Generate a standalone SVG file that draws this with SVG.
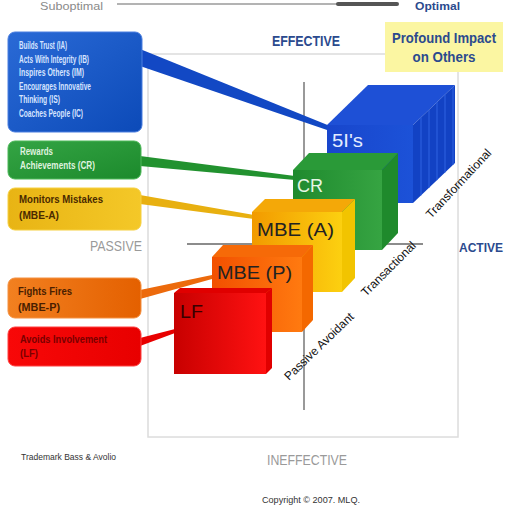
<svg xmlns="http://www.w3.org/2000/svg" width="510" height="505" viewBox="0 0 510 505">
<defs>
<linearGradient id="gBlueBox" x1="0" y1="0" x2="1" y2="1"><stop offset="0" stop-color="#2a6ad6"/><stop offset="1" stop-color="#0c4ab8"/></linearGradient>
<linearGradient id="gGreenBox" x1="0" y1="0" x2="1" y2="1"><stop offset="0" stop-color="#34a444"/><stop offset="1" stop-color="#1c8a2c"/></linearGradient>
<linearGradient id="gYellowBox" x1="0" y1="0" x2="1" y2="0"><stop offset="0" stop-color="#e8b414"/><stop offset="1" stop-color="#f4c828"/></linearGradient>
<linearGradient id="gOrangeBox" x1="0" y1="0" x2="1" y2="0"><stop offset="0" stop-color="#f28020"/><stop offset="1" stop-color="#e46000"/></linearGradient>
<linearGradient id="gRedBox" x1="0" y1="0" x2="1" y2="0"><stop offset="0" stop-color="#f80808"/><stop offset="1" stop-color="#e80000"/></linearGradient>
<linearGradient id="gBlueF" x1="0" y1="0" x2="1" y2="0"><stop offset="0" stop-color="#1846cc"/><stop offset="1" stop-color="#1c52d8"/></linearGradient>
<linearGradient id="gGreenF" x1="0" y1="0" x2="1" y2="0"><stop offset="0" stop-color="#1f8a2e"/><stop offset="1" stop-color="#36a442"/></linearGradient>
<linearGradient id="gYellowF" x1="0" y1="0" x2="1" y2="0"><stop offset="0" stop-color="#f29a00"/><stop offset="1" stop-color="#fcd010"/></linearGradient>
<linearGradient id="gOrangeF" x1="0" y1="0" x2="1" y2="0"><stop offset="0" stop-color="#f25000"/><stop offset="1" stop-color="#ff7a10"/></linearGradient>
<linearGradient id="gRedF" x1="0" y1="0" x2="1" y2="0"><stop offset="0" stop-color="#c80000"/><stop offset="1" stop-color="#ff1212"/></linearGradient>
<style>
.box text{font-family:"Liberation Sans","DejaVu Sans",sans-serif;font-weight:bold;font-size:10px}
.lbl{font-family:"Liberation Sans","DejaVu Sans",sans-serif}
.cube text{font-family:"Liberation Sans","DejaVu Sans",sans-serif;font-size:19px}
.diag{font-family:"Liberation Sans","DejaVu Sans",sans-serif;font-size:12px;fill:#111}
.navy{fill:#2b4a8e;font-weight:bold}
.grey{fill:#9a9a9a}
</style>
</defs>
<rect width="510" height="505" fill="#ffffff"/>

<!-- top scale -->
<g id="scale">
<text class="lbl" x="40" y="10" font-size="11" fill="#8a8a8a" textLength="63" lengthAdjust="spacingAndGlyphs">Suboptimal</text>
<line x1="117" y1="4" x2="398" y2="4" stroke="#9a9a9a" stroke-width="1.5"/>
<line x1="338" y1="4" x2="397" y2="4" stroke="#555" stroke-width="4" stroke-linecap="round"/>
<text class="lbl navy" x="415" y="10" font-size="11" textLength="45" lengthAdjust="spacingAndGlyphs">Optimal</text>
</g>

<!-- frame and axes -->
<g id="frame">
<rect x="148" y="54" width="310" height="383" fill="none" stroke="#dcdcdc" stroke-width="1.5"/>
<line x1="304" y1="82" x2="304" y2="410" stroke="#777" stroke-width="1.5"/>
<line x1="187" y1="244" x2="423" y2="244" stroke="#666" stroke-width="1.5"/>
</g>

<g id="labels">
<text class="lbl navy" x="306" y="46" font-size="14" text-anchor="middle" textLength="68" lengthAdjust="spacingAndGlyphs">EFFECTIVE</text>
<text class="lbl grey" x="90" y="251" font-size="14" textLength="52" lengthAdjust="spacingAndGlyphs">PASSIVE</text>
<text class="lbl navy" x="459" y="252" font-size="13" textLength="44" lengthAdjust="spacingAndGlyphs">ACTIVE</text>
<text class="lbl grey" x="307" y="465" font-size="15" text-anchor="middle" textLength="80" lengthAdjust="spacingAndGlyphs">INEFFECTIVE</text>
<text class="lbl" x="21" y="460" font-size="9" fill="#333" textLength="95" lengthAdjust="spacingAndGlyphs">Trademark Bass &amp; Avolio</text>
<text class="lbl" x="262" y="503" font-size="9" fill="#333" textLength="98" lengthAdjust="spacingAndGlyphs">Copyright © 2007. MLQ.</text>
</g>

<g id="impact">
<rect x="385" y="22" width="118" height="50" fill="#fbf6a2"/>
<text class="lbl navy" x="444" y="43" font-size="14" text-anchor="middle" textLength="104" lengthAdjust="spacingAndGlyphs">Profound Impact</text>
<text class="lbl navy" x="444" y="62" font-size="14" text-anchor="middle" textLength="63" lengthAdjust="spacingAndGlyphs">on Others</text>
</g>

<!-- connectors -->
<g id="connectors">
<polygon points="140,49 330,126 330,131 140,66" fill="#1248c4"/>
<polygon points="140,156 295,176 295,180 140,166" fill="#22922f"/>
<polygon points="140,195 254,215 254,219 140,204" fill="#e8b010"/>
<polygon points="140,290 212,275 212,279 140,299" fill="#ec6a0c"/>
<polygon points="140,338 175,329 175,333 140,346" fill="#e80000"/>
</g>

<!-- left boxes -->
<g id="box-5is" class="box">
<rect x="8" y="32" width="134" height="100" rx="7" fill="url(#gBlueBox)" stroke="#4a7ee0" stroke-width="1"/>
<g fill="#d6e4ff">
<text x="19" y="49" textLength="48" lengthAdjust="spacingAndGlyphs">Builds Trust (IA)</text>
<text x="19" y="62.5" textLength="70" lengthAdjust="spacingAndGlyphs">Acts With Integrity (IB)</text>
<text x="19" y="76" textLength="65" lengthAdjust="spacingAndGlyphs">Inspires Others (IM)</text>
<text x="19" y="89.5" textLength="72" lengthAdjust="spacingAndGlyphs">Encourages Innovative</text>
<text x="19" y="103" textLength="41" lengthAdjust="spacingAndGlyphs">Thinking (IS)</text>
<text x="19" y="116.5" textLength="64" lengthAdjust="spacingAndGlyphs">Coaches People (IC)</text>
</g>
</g>
<g id="box-cr" class="box">
<rect x="8" y="141" width="133" height="38" rx="7" fill="url(#gGreenBox)" stroke="#4cb858" stroke-width="1"/>
<g fill="#dff2df">
<text x="20" y="155" textLength="33" lengthAdjust="spacingAndGlyphs">Rewards</text>
<text x="20" y="169" textLength="75" lengthAdjust="spacingAndGlyphs">Achievements (CR)</text>
</g>
</g>
<g id="box-mbea" class="box">
<rect x="8" y="188" width="133" height="42" rx="7" fill="url(#gYellowBox)" stroke="#f6d040" stroke-width="1"/>
<g fill="#4a2a00">
<text x="19" y="203" textLength="84" lengthAdjust="spacingAndGlyphs">Monitors Mistakes</text>
<text x="19" y="219" textLength="40" lengthAdjust="spacingAndGlyphs">(MBE-A)</text>
</g>
</g>
<g id="box-mbep" class="box">
<rect x="8" y="278" width="133" height="40" rx="7" fill="url(#gOrangeBox)" stroke="#f49040" stroke-width="1"/>
<g fill="#4a1e00">
<text x="18" y="295" textLength="54" lengthAdjust="spacingAndGlyphs">Fights Fires</text>
<text x="18" y="311" textLength="42" lengthAdjust="spacingAndGlyphs">(MBE-P)</text>
</g>
</g>
<g id="box-lf" class="box">
<rect x="8" y="327" width="133" height="39" rx="7" fill="url(#gRedBox)" stroke="#ff4040" stroke-width="1"/>
<g fill="#7a0000">
<text x="20" y="343" textLength="87" lengthAdjust="spacingAndGlyphs">Avoids Involvement</text>
<text x="20" y="357" textLength="18" lengthAdjust="spacingAndGlyphs">(LF)</text>
</g>
</g>

<!-- cubes -->
<g id="cube-5is" class="cube">
<polygon points="327,125 368,85 455,85 413,125" fill="#1e50d6"/>
<polygon points="413,125 455,85 455,163 413,203" fill="#1242c4"/>
<g stroke="#2e62e2" stroke-width="1">
<line x1="421" y1="117.4" x2="421" y2="195.4"/>
<line x1="429" y1="109.8" x2="429" y2="187.8"/>
<line x1="437" y1="102.1" x2="437" y2="180.1"/>
<line x1="445" y1="94.5" x2="445" y2="172.5"/>
<line x1="453" y1="86.9" x2="453" y2="164.9"/>
</g>
<rect x="327" y="125" width="86" height="78" fill="url(#gBlueF)"/>
<text x="332" y="147" fill="#e4ecff" textLength="31" lengthAdjust="spacingAndGlyphs">5I's</text>
</g>
<g id="cube-cr" class="cube">
<polygon points="293,170 309,153 398,153 382,170" fill="#2a9a38"/>
<polygon points="382,170 398,153 398,233 382,250" fill="#1f8a2c"/>
<rect x="293" y="170" width="89" height="80" fill="url(#gGreenF)"/>
<text x="297" y="192" fill="#e6f6e6" font-size="20" textLength="26" lengthAdjust="spacingAndGlyphs">CR</text>
</g>
<g id="cube-mbea" class="cube">
<polygon points="252,212 265,199 355,199 342,212" fill="#f4a808"/>
<polygon points="342,212 355,199 355,278 342,292" fill="#f2c400"/>
<rect x="252" y="212" width="90" height="80" fill="url(#gYellowF)"/>
<text x="257" y="236" fill="#222" textLength="77" lengthAdjust="spacingAndGlyphs">MBE (A)</text>
</g>
<g id="cube-mbep" class="cube">
<polygon points="212,257 223,245 313,245 302,257" fill="#f66a08"/>
<polygon points="302,257 313,245 313,320 302,332" fill="#f46800"/>
<rect x="212" y="257" width="90" height="75" fill="url(#gOrangeF)"/>
<text x="217" y="279" fill="#222" textLength="75" lengthAdjust="spacingAndGlyphs">MBE (P)</text>
</g>
<g id="cube-lf" class="cube">
<polygon points="174,293 180,288 272,288 266,293" fill="#e00000"/>
<polygon points="266,293 272,288 272,368 266,374" fill="#e00000"/>
<rect x="174" y="293" width="92" height="81" fill="url(#gRedF)"/>
<text x="180" y="318" fill="#3a0000" textLength="23" lengthAdjust="spacingAndGlyphs">LF</text>
</g>

<g id="diagonals">
<text class="diag" transform="translate(289,381) rotate(-44)">Passive Avoidant</text>
<text class="diag" transform="translate(366,297) rotate(-45)">Transactional</text>
<text class="diag" transform="translate(431,219) rotate(-47)">Transformational</text>
</g>
</svg>
